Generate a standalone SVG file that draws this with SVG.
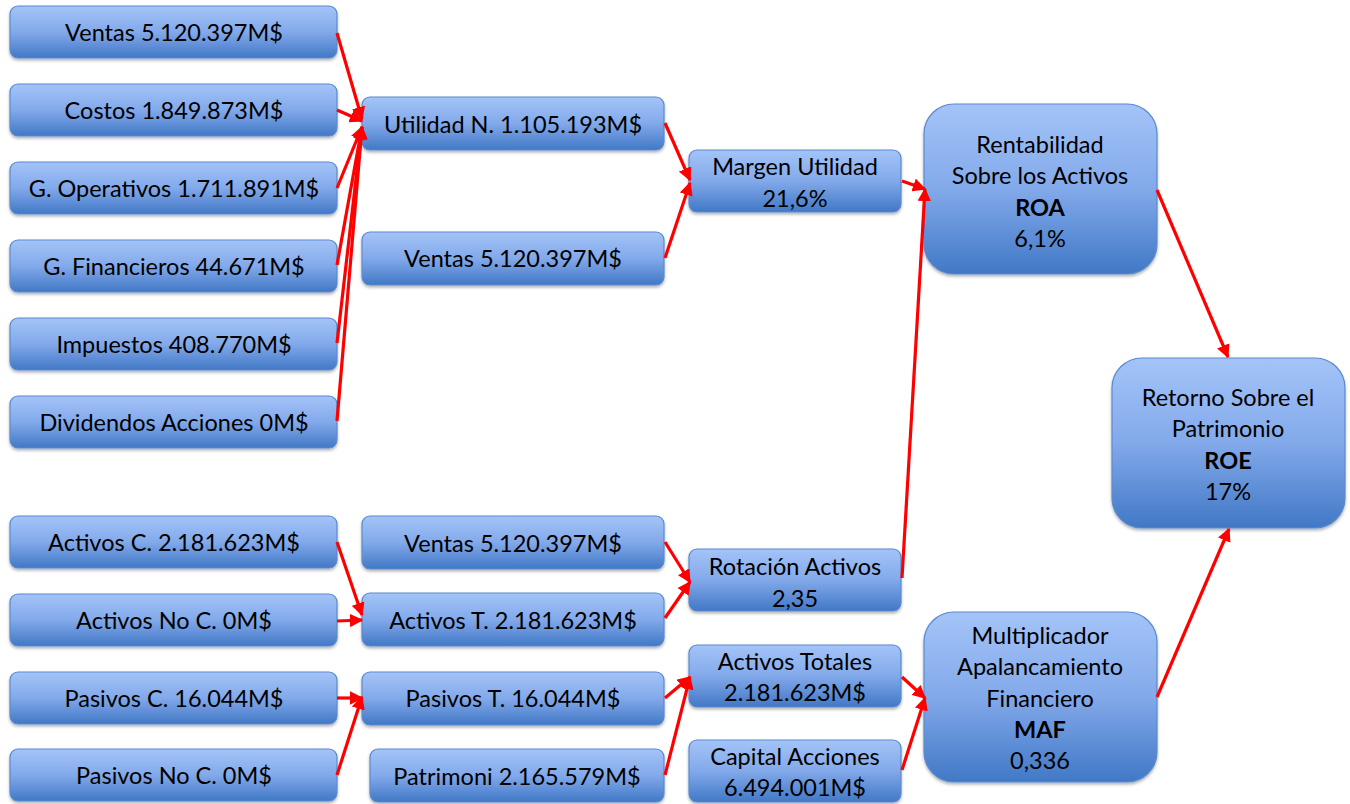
<svg xmlns="http://www.w3.org/2000/svg" width="1350" height="804" viewBox="0 0 1350 804">
<defs>
<linearGradient id="g" x1="0" y1="0" x2="0" y2="1">
<stop offset="0" stop-color="#A4C4F8"/>
<stop offset="0.5" stop-color="#82A9EA"/>
<stop offset="1" stop-color="#4178C6"/>
</linearGradient>
<filter id="sh" x="-10%" y="-10%" width="120%" height="130%">
<feDropShadow dx="0" dy="2" stdDeviation="1.5" flood-color="#000" flood-opacity="0.3"/>
</filter>
<marker id="ah" viewBox="0 0 10 10" refX="9" refY="5" markerWidth="4.2" markerHeight="4.2" orient="auto" markerUnits="strokeWidth">
<path d="M0,0 L10,5 L0,10 z" fill="#FF0000"/>
</marker>
</defs>
<style>
.b{fill:url(#g);stroke:#5A8AD0;stroke-width:1.2;filter:url(#sh)}
text{font-family:Lato,"Open Sans","Liberation Sans",sans-serif;font-size:23.5px;fill:#000;text-anchor:middle;dominant-baseline:central}
.bold{font-weight:bold}
.c line{stroke:#FF0000;stroke-width:3.2;marker-end:url(#ah)}
</style>
<rect width="1350" height="804" fill="#fff"/>
<g id="n1"><rect class="b" x="10" y="6" width="327" height="52" rx="8"/><text x="174" y="32">Ventas 5.120.397M$</text></g>
<g id="n2"><rect class="b" x="10" y="84" width="327" height="52" rx="8"/><text x="174" y="110">Costos 1.849.873M$</text></g>
<g id="n3"><rect class="b" x="10" y="162" width="327" height="52" rx="8"/><text x="174" y="188">G. Operativos 1.711.891M$</text></g>
<g id="n4"><rect class="b" x="10" y="240" width="327" height="52" rx="8"/><text x="174" y="266">G. Financieros 44.671M$</text></g>
<g id="n5"><rect class="b" x="10" y="318" width="327" height="52" rx="8"/><text x="174" y="344">Impuestos 408.770M$</text></g>
<g id="n6"><rect class="b" x="10" y="396" width="327" height="52" rx="8"/><text x="174" y="422">Dividendos Acciones 0M$</text></g>
<g id="n7"><rect class="b" x="10" y="516" width="327" height="52" rx="8"/><text x="174" y="542">Activos C. 2.181.623M$</text></g>
<g id="n8"><rect class="b" x="10" y="594" width="327" height="52" rx="8"/><text x="174" y="620">Activos No C. 0M$</text></g>
<g id="n9"><rect class="b" x="10" y="672" width="327" height="52" rx="8"/><text x="174" y="698">Pasivos C. 16.044M$</text></g>
<g id="n10"><rect class="b" x="10" y="749" width="327" height="52" rx="8"/><text x="174" y="775">Pasivos No C. 0M$</text></g>

<g id="m1"><rect class="b" x="362" y="97" width="302" height="53" rx="8"/><text x="513" y="124">Utilidad N. 1.105.193M$</text></g>
<g id="m2"><rect class="b" x="362" y="232" width="302" height="53" rx="8"/><text x="513" y="258">Ventas 5.120.397M$</text></g>
<g id="m3"><rect class="b" x="362" y="516" width="302" height="53" rx="8"/><text x="513" y="543">Ventas 5.120.397M$</text></g>
<g id="m4"><rect class="b" x="362" y="593" width="302" height="53" rx="8"/><text x="513" y="620">Activos T. 2.181.623M$</text></g>
<g id="m5"><rect class="b" x="362" y="672" width="302" height="53" rx="8"/><text x="513" y="698">Pasivos T. 16.044M$</text></g>
<g id="m6"><rect class="b" x="370" y="749" width="294" height="53" rx="8"/><text x="517" y="776">Patrimoni 2.165.579M$</text></g>

<g id="k1"><rect class="b" x="689" y="150" width="212" height="62" rx="8"/><text x="795" y="166">Margen Utilidad</text><text x="795" y="198">21,6%</text></g>
<g id="k2"><rect class="b" x="689" y="549" width="212" height="62" rx="8"/><text x="795" y="566">Rotación Activos</text><text x="795" y="598">2,35</text></g>
<g id="k3"><rect class="b" x="689" y="645" width="212" height="62" rx="8"/><text x="795" y="661">Activos Totales</text><text x="795" y="692">2.181.623M$</text></g>
<g id="k4"><rect class="b" x="689" y="740" width="212" height="62" rx="8"/><text x="795" y="756">Capital Acciones</text><text x="795" y="787">6.494.001M$</text></g>

<g id="roa"><rect class="b" x="924" y="104" width="233" height="170" rx="30"/>
<text x="1040" y="144">Rentabilidad</text><text x="1040" y="175">Sobre los Activos</text><text class="bold" x="1040" y="207">ROA</text><text x="1040" y="238">6,1%</text></g>
<g id="maf"><rect class="b" x="924" y="612" width="233" height="170" rx="30"/>
<text x="1040" y="635">Multiplicador</text><text x="1040" y="666">Apalancamiento</text><text x="1040" y="698">Financiero</text><text class="bold" x="1040" y="729">MAF</text><text x="1040" y="760">0,336</text></g>
<g id="roe"><rect class="b" x="1112" y="358" width="233" height="170" rx="30"/>
<text x="1228" y="397">Retorno Sobre el</text><text x="1228" y="428">Patrimonio</text><text class="bold" x="1228" y="460">ROE</text><text x="1228" y="491">17%</text></g>

<g id="connectors" class="c">
<line x1="337" y1="33" x2="362" y2="119"/>
<line x1="337" y1="110" x2="362" y2="121"/>
<line x1="337" y1="188" x2="362" y2="127"/>
<line x1="337" y1="265" x2="362" y2="127"/>
<line x1="337" y1="343" x2="362" y2="127"/>
<line x1="337" y1="421" x2="362" y2="127"/>
<line x1="665" y1="123" x2="690" y2="180"/>
<line x1="665" y1="258" x2="690" y2="183"/>
<line x1="902" y1="181" x2="925" y2="189"/>
<line x1="902" y1="578" x2="925" y2="189"/>
<line x1="1157" y1="190" x2="1228" y2="357"/>
<line x1="1157" y1="697" x2="1229" y2="529"/>
<line x1="337" y1="542" x2="362" y2="615"/>
<line x1="337" y1="621" x2="362" y2="620"/>
<line x1="337" y1="698" x2="362" y2="698"/>
<line x1="337" y1="775" x2="362" y2="697"/>
<line x1="665" y1="542" x2="690" y2="582"/>
<line x1="665" y1="618" x2="690" y2="582"/>
<line x1="665" y1="698" x2="690" y2="677"/>
<line x1="665" y1="775" x2="690" y2="677"/>
<line x1="902" y1="677" x2="925" y2="698"/>
<line x1="902" y1="770" x2="925" y2="698"/>
</g>
</svg>
